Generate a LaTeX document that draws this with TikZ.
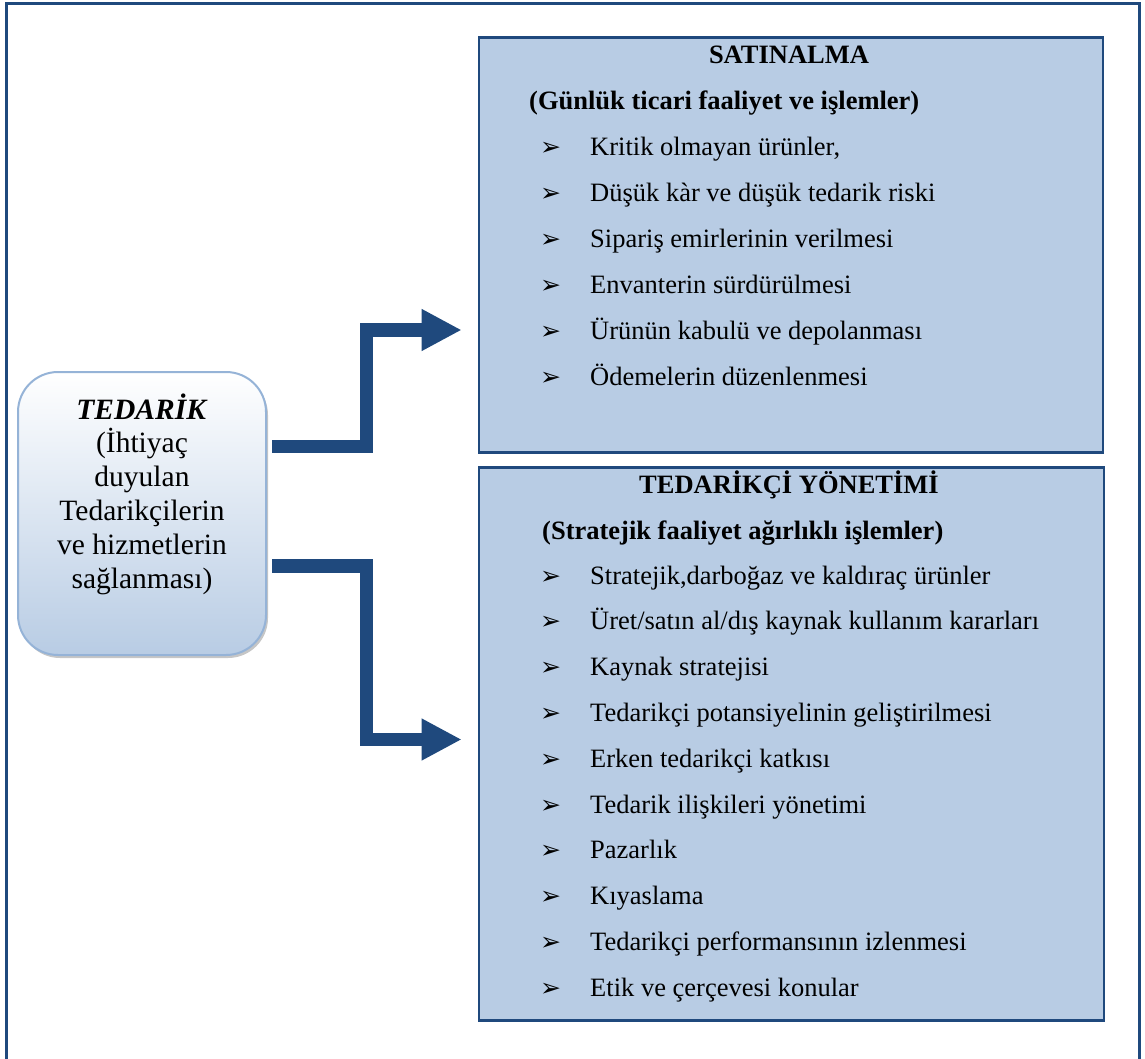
\documentclass[tikz,border=0pt]{standalone}
\usepackage{fontspec}
\setmainfont{Liberation Serif}
\newfontfamily\dejavu{DejaVu Sans}
\usetikzlibrary{arrows.meta,shadows}
\definecolor{navy}{HTML}{1F497D}
\definecolor{paleblue}{HTML}{B8CCE4}
\definecolor{edgeblue}{HTML}{95B3D7}
\tikzset{
  panel/.style={draw=navy, fill=paleblue, line width=2.5pt, inner sep=0pt},
  itm/.style={anchor=base west, inner sep=0pt, font=\fontsize{26.5}{30}\selectfont},
  bul/.style={anchor=base, inner sep=0pt, font=\dejavu\fontsize{25}{26}\selectfont},
  head/.style={anchor=base, inner sep=0pt, font=\fontsize{26.5}{30}\selectfont\bfseries},
  subhead/.style={anchor=base west, inner sep=0pt, font=\fontsize{26.5}{30}\selectfont\bfseries},
  flow/.style={draw=navy, line width=13.3pt, line join=miter, -{Triangle[length=40pt,width=39pt]}},
}
\newcommand\bulletrow[3]{%
  \node[bul] (#1b) at (550.5,#2) {➢};
  \node[itm] (#1) at (590,#2) {#3};}
\begin{document}
\begin{tikzpicture}[x=1pt,y=-1pt]
\useasboundingbox (0,0) rectangle (1145,1059);
\draw[navy, line width=3pt] (6.5,1075) -- (6.5,3.5) -- (1139.2,3.5) -- (1139.2,1075);

% panels
\node[panel, minimum width=624pt, minimum height=415pt] (sat) at (791,245) {};
\node[panel, minimum width=625pt, minimum height=553pt] (ted) at (791.5,744) {};

% left rounded box
\node[draw=edgeblue, line width=2pt, rounded corners=40pt, top color=white, bottom color=paleblue,
      minimum width=248pt, minimum height=283pt, inner sep=0pt,
      drop shadow={shadow xshift=2pt, shadow yshift=-3pt, opacity=0.45, fill=gray}] (src) at (142,513.5) {};
\node[anchor=base, align=center, inner sep=0pt, font=\fontsize{29.5}{33.8}\selectfont] (srct) at (142,588)
  {\textbf{\textit{TEDARİK}}\\(İhtiyaç\\duyulan\\Tedarikçilerin\\ve hizmetlerin\\sağlanması)};

% connectors
\coordinate (s1) at (272,446.5);
\coordinate (s2) at (272,566);
\coordinate (e1) at (461.7,330);
\coordinate (e2) at (461.7,739.5);
\draw[flow] (s1) -| (366.5,330) -- (e1);
\draw[flow] (s2) -| (366.5,739.5) -- (e2);

% SATINALMA panel text
\node[head] (h1) at (789,64) {SATINALMA};
\node[subhead] (sh1) at (529,110) {(Günlük ticari faaliyet ve işlemler)};
\bulletrow{a1}{156}{Kritik olmayan ürünler,}
\bulletrow{a2}{201.8}{Düşük kàr ve düşük tedarik riski}
\bulletrow{a3}{247.6}{Sipariş emirlerinin verilmesi}
\bulletrow{a4}{293.4}{Envanterin sürdürülmesi}
\bulletrow{a5}{339.2}{Ürünün kabulü ve depolanması}
\bulletrow{a6}{385}{Ödemelerin düzenlenmesi}

% TEDARIKCI YONETIMI panel text
\node[head] (h2) at (789,493) {TEDARİKÇİ YÖNETİMİ};
\node[subhead] (sh2) at (542,539) {(Stratejik faaliyet ağırlıklı işlemler)};
\bulletrow{b1}{584}{Stratejik,darboğaz ve kaldıraç ürünler}
\bulletrow{b2}{629.8}{Üret/satın al/dış kaynak kullanım kararları}
\bulletrow{b3}{675.6}{Kaynak stratejisi}
\bulletrow{b4}{721.4}{Tedarikçi potansiyelinin geliştirilmesi}
\bulletrow{b5}{767.2}{Erken tedarikçi katkısı}
\bulletrow{b6}{813}{Tedarik ilişkileri yönetimi}
\bulletrow{b7}{858.8}{Pazarlık}
\bulletrow{b8}{904.6}{Kıyaslama}
\bulletrow{b9}{950.4}{Tedarikçi performansının izlenmesi}
\bulletrow{b10}{996.2}{Etik ve çerçevesi konular}
\end{tikzpicture}
\end{document}
